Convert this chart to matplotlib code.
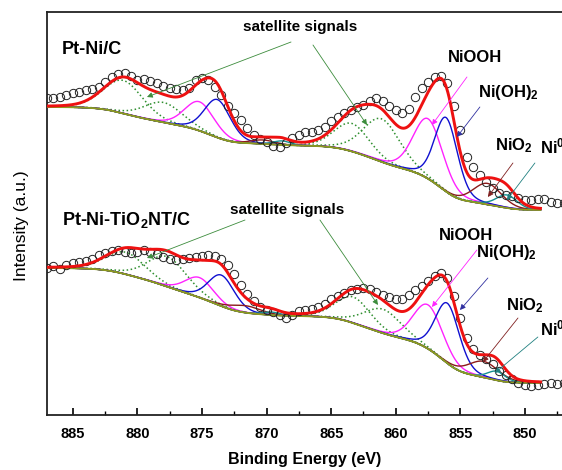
import numpy as np
import matplotlib
matplotlib.use("Agg")
import matplotlib.pyplot as plt
from matplotlib.ticker import MultipleLocator

plt.rcParams['font.family'] = ['Liberation Sans', 'DejaVu Sans']
plt.rcParams['mathtext.default'] = 'regular'

# ---------------- data ----------------
energy = np.arange(887.0, 846.75, -0.5)          # binding energy of the measured points (eV)

top_counts = [317, 317, 318, 320, 322, 323, 325, 326, 328, 333,
              338, 341, 342, 339, 335, 336, 334, 332, 329, 327,
              326, 325, 327, 335, 337, 335, 328, 320, 309, 302,
              295, 287, 280, 276, 273, 269, 268, 272, 277, 280,
              283, 283, 285, 288, 294, 298, 302, 305, 308, 310,
              314, 317, 314, 309, 305, 302, 306, 318, 327, 333,
              338, 339, 332, 309, 285, 258, 248, 240, 233, 227,
              222, 220, 219, 217, 215, 215, 216, 216, 213, 212,
              212]

bottom_counts = [147, 149, 146, 150, 152, 153, 154, 156, 160, 162,
                 164, 165, 163, 162, 163, 165, 163, 161, 158, 156,
                 155, 156, 157, 158, 159, 160, 159, 156, 150, 141,
                 130, 121, 114, 108, 105, 103, 100, 97, 100, 104,
                 105, 106, 108, 111, 116, 119, 122, 125, 126, 127,
                 126, 123, 120, 118, 116, 116, 120, 125, 129, 134,
                 139, 142, 137, 119, 97, 77, 66, 60, 56, 51,
                 44, 40, 36, 32, 30, 29, 30, 31, 32, 31,
                 32]

# fitted components: sat 2p1/2 (x2), NiOOH, Ni(OH)2, NiO2, Ni0 (2p1/2),
#                    sat 2p3/2 (x2), NiOOH, Ni(OH)2, NiO2, Ni0 (2p3/2)
top_centers = [881.1, 878.0, 875.2, 873.8, 870.3, 868.8, 863.4, 861.1, 857.5, 856.1, 852.9, 851.4]
top_heights = [33, 20, 29, 38, 4, 4, 28, 43, 60, 74, 21, 13]
top_fwhm = [3.6, 3.5, 2.7, 2.4, 2.2, 1.6, 3.2, 3.4, 2.7, 2.1, 2.6, 1.9]
top_bg_ends = [308, 205]           # background at high-BE end, low-BE end

bot_centers = [880.9, 877.7, 875.2, 873.5, 871.6, 869.6, 863.3, 861.0, 857.5, 856.0, 853.2, 852.2]
bot_heights = [22, 30, 20, 31, 7, 3, 26, 24, 44, 60, 16, 9]
bot_fwhm = [3.6, 3.6, 2.6, 2.4, 2.8, 1.6, 3.2, 3.4, 2.7, 2.2, 2.8, 1.6]
bot_bg_ends = [147, 32]

fit_range = [887.0, 848.8]

# ---------------- styles ----------------
comp_colors = ['#2f8f2f', '#2f8f2f', '#ff22ff', '#1010d0', '#8b1a1a', '#159090',
               '#2f8f2f', '#2f8f2f', '#ff22ff', '#1010d0', '#8b1a1a', '#159090']
comp_styles = [':', ':', '-', '-', '-', '-', ':', ':', '-', '-', '-', '-']


def pseudo_voigt(e, c, h, w, eta=0.2):
    x = (e - c) / w
    g = np.exp(-4 * np.log(2) * x ** 2)
    lor = 1.0 / (1 + 4 * x ** 2)
    return h * ((1 - eta) * g + eta * lor)


def model(centers, heights, fwhm, bg_ends):
    e = np.linspace(fit_range[1], fit_range[0], 800)  # ascending
    peaks = [pseudo_voigt(e, c, h, w) for c, h, w in zip(centers, heights, fwhm)]
    total = np.sum(peaks, axis=0)
    cum = np.concatenate([[0], np.cumsum((total[1:] + total[:-1]) / 2 * np.diff(e))])
    bg = bg_ends[1] + (bg_ends[0] - bg_ends[1]) * cum / cum[-1]
    return e, bg, peaks


fig = plt.figure(figsize=(5.62, 4.70), dpi=100)
ax = fig.add_axes([47 / 562, 55 / 470, 518 / 562, 403 / 470])

for counts, centers, heights, fwhm, bg_ends in [
        (top_counts, top_centers, top_heights, top_fwhm, top_bg_ends),
        (bottom_counts, bot_centers, bot_heights, bot_fwhm, bot_bg_ends)]:
    e, bg, peaks = model(centers, heights, fwhm, bg_ends)
    for p, col, ls in zip(peaks, comp_colors, comp_styles):
        ax.plot(e, bg + p, color=col, ls=ls, lw=1.0 if ls == '-' else 1.1, zorder=3)
    ax.plot(e, bg, color='#8f9a1e', lw=1.3, zorder=3.5)
    ax.plot(energy, counts, 'o', ms=6, mfc='none', mec='#222222', mew=0.7, zorder=4)
    ax.plot(e, bg + np.sum(peaks, axis=0), color='#ee1111', lw=2.1, zorder=5)

ax.set_xlim(887.0, 846.9)
ax.set_ylim(0, 403)
ax.set_yticks([])
ax.xaxis.set_major_locator(MultipleLocator(5))
ax.xaxis.set_minor_locator(MultipleLocator(2.5))
ax.tick_params(axis='x', which='major', direction='in', length=5, width=1.2, pad=9,
               labelsize=10.5)
ax.tick_params(axis='x', which='minor', direction='in', length=3, width=1.0)
for lab in ax.get_xticklabels():
    lab.set_fontweight('bold')
for s in ['left', 'bottom', 'top']:
    ax.spines[s].set_linewidth(1.3)
    ax.spines[s].set_color('#222222')
ax.spines['right'].set_visible(False)

ax.set_xlabel('Binding Energy (eV)', fontsize=11.5, fontweight='bold', va='top')
ax.xaxis.set_label_coords(0.498, -0.092)
ax.set_ylabel('Intensity (a.u.)', fontsize=12.5)
ax.yaxis.set_label_coords(-0.035, 0.47)

bold = dict(fontweight='bold', color='black')


def arrow(start, end, color):
    ax.annotate('', xy=end, xytext=start,
                arrowprops=dict(arrowstyle='-|>', color=color, lw=0.6, mutation_scale=8,
                                shrinkA=0, shrinkB=0), zorder=6)


# top spectrum labels
ax.text(885.84, 365, 'Pt-Ni/C', ha='left', va='center', fontsize=13, **bold)
ax.text(867.42, 388, 'satellite signals', ha='center', va='center', fontsize=11, **bold)
arrow((868.11, 373), (879.26, 318), '#3c8c3c')
arrow((866.41, 370), (862.23, 290), '#3c8c3c')
ax.text(853.87, 357, 'NiOOH', ha='center', va='center', fontsize=12, **bold)
arrow((854.49, 338), (857.20, 290), '#ff22ff')
ax.text(851.3, 323, 'Ni(OH)$_2$', ha='center', va='center', fontsize=12, **bold)
arrow((853.49, 308), (855.27, 278), '#3030a0')
ax.text(850.85, 269, 'NiO$_2$', ha='center', va='center', fontsize=12, **bold)
arrow((850.93, 252), (852.87, 218), '#802020')
ax.text(848.84, 269, 'Ni$^0$', ha='left', va='center', fontsize=12, **bold)
arrow((849.23, 252), (851.40, 215), '#208080')

# bottom spectrum labels
ax.text(885.84, 195, 'Pt-Ni-TiO$_2$NT/C', ha='left', va='center', fontsize=13, **bold)
ax.text(868.42, 205, 'satellite signals', ha='center', va='center', fontsize=11, **bold)
arrow((871.67, 195), (879.26, 157), '#3c8c3c')
arrow((865.87, 195), (861.38, 110), '#3c8c3c')
ax.text(854.57, 179, 'NiOOH', ha='center', va='center', fontsize=12, **bold)
arrow((853.72, 165), (857.20, 108), '#ff22ff')
ax.text(851.40, 162, 'Ni(OH)$_2$', ha='center', va='center', fontsize=12, **bold)
arrow((852.87, 137), (855.03, 105), '#3030a0')
ax.text(850.0, 109, 'NiO$_2$', ha='center', va='center', fontsize=12, **bold)
arrow((850.54, 97), (853.25, 53), '#802020')
ax.text(848.84, 87, 'Ni$^0$', ha='left', va='center', fontsize=12, **bold)
arrow((849.0, 78), (852.33, 42), '#208080')

fig.savefig('out.png', dpi=100)
